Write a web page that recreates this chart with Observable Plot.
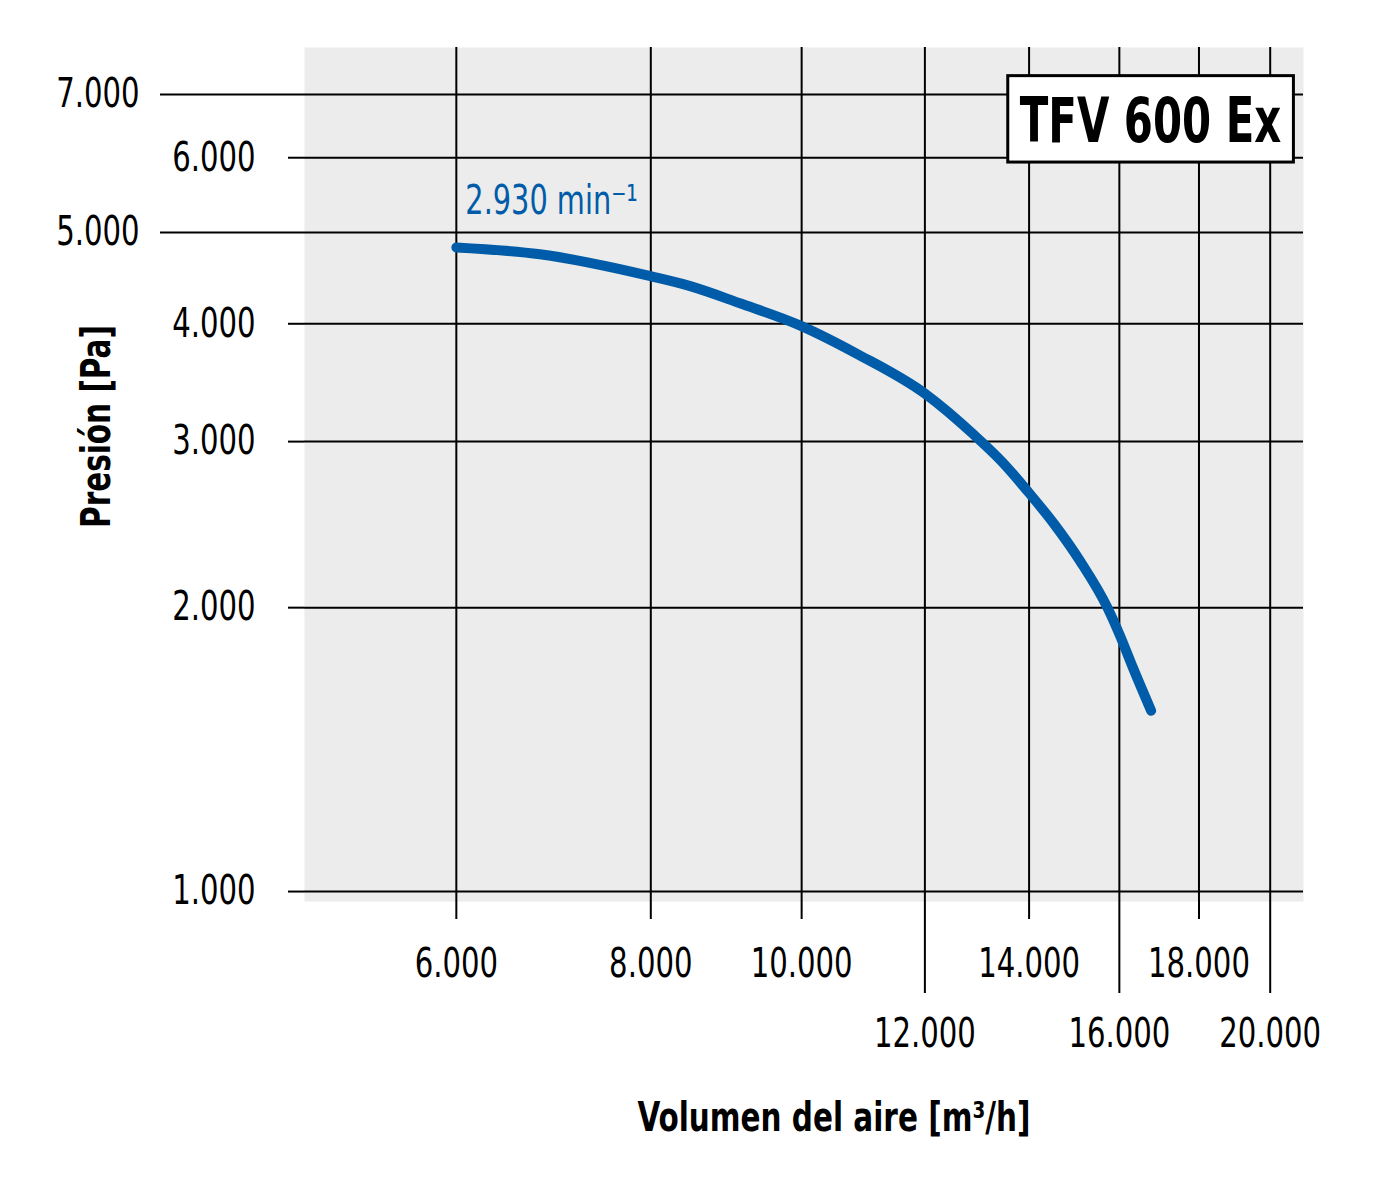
<!DOCTYPE html>
<html>
<head>
<meta charset="utf-8">
<script src="https://cdn.jsdelivr.net/npm/d3@7"></script>
<script src="https://cdn.jsdelivr.net/npm/@observablehq/plot@0.6"></script>
<style>
  html, body { margin: 0; padding: 0; background: #fff; }
  #chart { width: 1400px; height: 1181px; }
</style>
</head>
<body>
<div id="chart"></div>
<script>
// Data (air volume m³/h vs pressure Pa)
const airflow  = [6000, 6790, 8010, 8480, 9130, 9990, 10860, 12010, 12890, 13480, 13990, 14510, 15100, 15720, 16000, 16330, 16770];
const pressure = [4820, 4740, 4490, 4385, 4205, 3980, 3715, 3370, 3055, 2845, 2650, 2460, 2240, 2000, 1875, 1725, 1555];

const xTicksShort = [6000, 8000, 10000, 14000, 18000];
const xTicksLong  = [12000, 16000, 20000];
const xGrid       = [6000, 8000, 10000, 12000, 14000, 16000, 18000, 20000];
const yTicksLong  = [7000, 5000];
const yTicksShort = [6000, 4000, 3000, 2000, 1000];
const yGrid       = [1000, 2000, 3000, 4000, 5000, 6000, 7000];

const xDomain = [4793, 21010];
const yDomain = [976, 7853];

const speedLabel = "2.930 min⁻¹";
const modelTitle = "TFV 600 Ex";
const xTitle = "Volumen del aire [m³/h]";
const yTitle = "Presión [Pa]";

const data = airflow.map((x, i) => ({x, y: pressure[i]}));

const locale = d3.formatLocale({decimal: ",", thousands: ".", grouping: [3], currency: ["", " €"]});
const fmt = locale.format(",");

const FONT = "'DejaVu Sans Condensed', 'DejaVu Sans', sans-serif";
const BLUE = "#005ca8";

const chart = Plot.plot({
  width: 1400,
  height: 1181,
  marginLeft: 304,
  marginRight: 97,
  marginTop: 47,
  marginBottom: 280,
  x: {type: "log", domain: xDomain},
  y: {type: "log", domain: yDomain},
  style: {fontFamily: FONT, fontSize: "40px", background: "#fff", color: "#000", fontStretch: "condensed"},
  marks: [
    Plot.frame({fill: "#ebeceb", stroke: null}),
    Plot.gridX(xGrid, {stroke: "#000", strokeOpacity: 1, strokeWidth: 2}),
    Plot.gridY(yGrid, {stroke: "#000", strokeOpacity: 1, strokeWidth: 2}),
    Plot.axisY(yTicksLong, {tickSize: 144, tickPadding: 21, tickFormat: fmt, strokeWidth: 2, label: null, fill: "#000"}),
    Plot.axisY(yTicksShort, {tickSize: 16, tickPadding: 33, tickFormat: fmt, strokeWidth: 2, label: null, fill: "#000"}),
    Plot.axisX(xTicksShort, {tickSize: 18, tickPadding: 29, tickFormat: fmt, strokeWidth: 2, label: null, fill: "#000"}),
    Plot.axisX(xTicksLong, {tickSize: 92, tickPadding: 25, tickFormat: fmt, strokeWidth: 2, label: null, fill: "#000"}),
    Plot.line(data, {x: "x", y: "y", stroke: BLUE, strokeWidth: 10, curve: "monotone-x", strokeLinecap: "round", strokeLinejoin: "round"}),
    Plot.text([data[0]], {x: "x", y: "y", text: () => speedLabel, textAnchor: "start", dx: 9, dy: -46, fill: BLUE, fontSize: 40, className: "sq-80"}),
    Plot.text([xTitle], {frameAnchor: "bottom", text: d => d, textAnchor: "middle", dx: 30, dy: 229, fontWeight: "bold", fontSize: 40, className: "sq-82"}),
    Plot.text([yTitle], {frameAnchor: "left", text: d => d, textAnchor: "middle", lineAnchor: "middle", rotate: -90, dx: -207, dy: -48, fontWeight: "bold", fontSize: 40, className: "sq-82"}),
    Plot.text([modelTitle], {frameAnchor: "top-right", text: d => d, textAnchor: "middle", lineAnchor: "middle", dx: -153, dy: 75, fontWeight: "bold", fontSize: 62, className: "model-title"})
  ]
});

document.getElementById("chart").appendChild(chart);

// Condense the lettering horizontally (the reference uses a condensed face)
function squeeze(t, f) {
  const xa = t.getAttribute("x");
  const x = xa && /^-?[\d.]+$/.test(xa) ? +xa : 0;
  if (xa && /^-?[\d.]+$/.test(xa)) t.removeAttribute("x");
  const tr = t.getAttribute("transform") || "";
  t.setAttribute("transform", `${tr} translate(${x},0) scale(${f},1)`);
}
chart.querySelectorAll("text").forEach(t => {
  let f = 0.81;
  if (t.closest(".model-title")) f = 0.75;
  else if (t.closest(".sq-82")) f = 0.82;
  else if (t.closest(".sq-80")) f = 0.8;
  squeeze(t, f);
});

// Box around the model title
const tg = chart.querySelector("g.model-title");
if (tg) {
  const t = tg.querySelector("text");
  const sr = chart.getBoundingClientRect();
  const br = t.getBoundingClientRect();
  const ns = "http://www.w3.org/2000/svg";
  const r = document.createElementNS(ns, "rect");
  r.setAttribute("x", br.left - sr.left - 12);
  r.setAttribute("y", br.top - sr.top - 9);
  r.setAttribute("width", br.width + 24);
  r.setAttribute("height", br.height + 14);
  r.setAttribute("fill", "#fff");
  r.setAttribute("stroke", "#000");
  r.setAttribute("stroke-width", 3);
  chart.insertBefore(r, tg);
}
</script>
</body>
</html>
